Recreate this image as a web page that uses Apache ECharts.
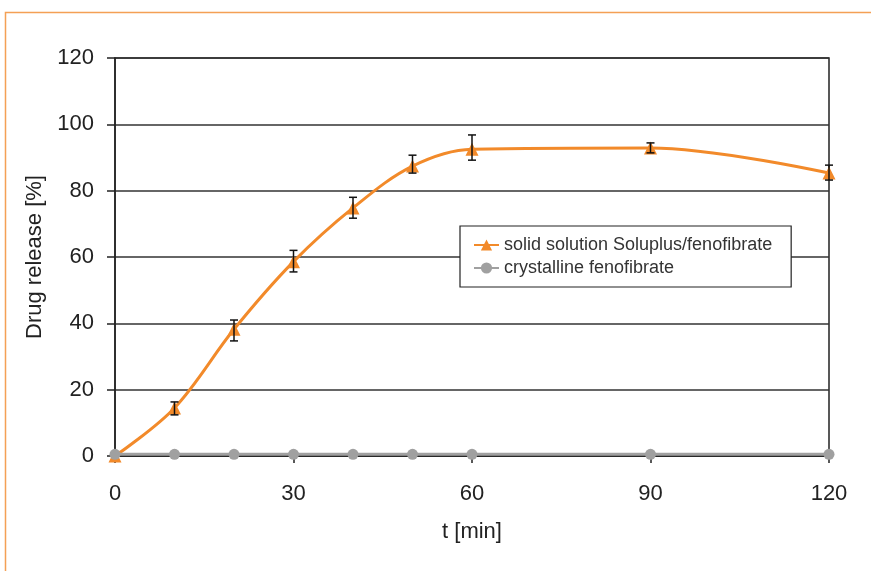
<!DOCTYPE html>
<html><head><meta charset="utf-8">
<script src="https://cdn.jsdelivr.net/npm/echarts@6/dist/echarts.min.js"></script>
<style>html,body{margin:0;padding:0;background:#fff}#c{width:871px;height:571px}</style>
</head><body><div id="c"></div>
<script>
const times = [0, 10, 20, 30, 40, 50, 60, 90, 120];
const solidSolution = [0, 14.5, 38.2, 58.6, 74.8, 87.4, 92.5, 92.9, 85.3];
const errLow = [0, 12.4, 34.7, 55.5, 71.7, 85.3, 89.2, 91.4, 83.2];
const errHigh = [0, 16.3, 41.0, 62.0, 78.0, 90.7, 96.8, 94.4, 87.7];
const crystalline = [0.5, 0.5, 0.5, 0.5, 0.5, 0.5, 0.5, 0.5, 0.5];
const xTicks = [0, 30, 60, 90, 120];
const yTicks = [0, 20, 40, 60, 80, 100, 120];

const font = 'Liberation Sans, Arial, Helvetica, sans-serif';
const orange = '#F28A2A';
const grey = '#A0A0A0';

const chart = echarts.init(document.getElementById('c'));
chart.setOption({
  animation: false,
  backgroundColor: '#fff',
  textStyle: { fontFamily: font },
  graphic: [{
    type: 'rect', left: 3, top: 10, silent: true, z: -10,
    shape: { width: 900, height: 600 },
    style: { fill: 'none', stroke: '#F4A055', lineWidth: 1.5 }
  }],
  grid: { left: 115, top: 58, right: 42, bottom: 115, show: true, borderColor: '#222', borderWidth: 1.5, backgroundColor: 'transparent' },
  legend: {
    orient: 'vertical', left: 460, top: 226,
    padding: [10, 19, 10, 13],
    itemWidth: 25, itemHeight: 14, itemGap: 5,
    backgroundColor: '#fff', borderColor: '#222', borderWidth: 1.2,
    textStyle: { fontFamily: font, fontSize: 18, color: '#333' },
    data: ['solid solution Soluplus/fenofibrate', 'crystalline fenofibrate']
  },
  xAxis: {
    type: 'value', min: 0, max: 120, interval: 30,
    name: 't [min]', nameLocation: 'middle', nameGap: 65,
    nameTextStyle: { fontFamily: font, fontSize: 22, color: '#222' },
    axisLine: { show: true, onZero: false, lineStyle: { color: '#222', width: 1.5 } },
    axisTick: { show: true, inside: false, length: 7, lineStyle: { color: '#222', width: 1.5 } },
    axisLabel: { fontFamily: font, fontSize: 22, color: '#222', margin: 27,
      formatter: v => xTicks.includes(v) ? String(v) : '' },
    splitLine: { show: false }
  },
  yAxis: {
    type: 'value', min: 0, max: 120, interval: 20,
    name: 'Drug release [%]', nameLocation: 'middle', nameGap: 66,
    nameTextStyle: { fontFamily: font, fontSize: 22, color: '#222' },
    axisLine: { show: true, lineStyle: { color: '#222', width: 1.5 } },
    axisTick: { show: true, inside: false, length: 8, lineStyle: { color: '#222', width: 1.5 } },
    axisLabel: { fontFamily: font, fontSize: 22, color: '#222', margin: 21,
      formatter: v => yTicks.includes(v) ? String(v) : '' },
    splitLine: { show: true, lineStyle: { color: '#333', width: 1.5 } }
  },
  series: [
    {
      name: 'crystalline fenofibrate', type: 'line',
      data: times.map((t, i) => [t, crystalline[i]]),
      symbol: 'circle', symbolSize: 11,
      lineStyle: { color: grey, width: 3 },
      itemStyle: { color: grey },
      z: 6
    },
    {
      name: 'solid solution Soluplus/fenofibrate', type: 'line',
      data: times.map((t, i) => [t, solidSolution[i]]),
      smooth: 0.35,
      symbol: 'triangle', symbolSize: 13,
      lineStyle: { color: orange, width: 3 },
      itemStyle: { color: orange },
      z: 4
    },
    {
      name: 'errors', type: 'custom',
      data: times.map((t, i) => [t, errLow[i], errHigh[i]]),
      encode: { x: 0, y: [1, 2] },
      z: 5,
      renderItem: function (params, api) {
        const x = api.value(0);
        const lo = api.coord([x, api.value(1)]);
        const hi = api.coord([x, api.value(2)]);
        if (Math.abs(hi[1] - lo[1]) < 1) return null;
        const w = 4;
        const st = { stroke: '#111', lineWidth: 1.5 };
        return {
          type: 'group',
          children: [
            { type: 'line', shape: { x1: lo[0], y1: lo[1], x2: hi[0], y2: hi[1] }, style: st },
            { type: 'line', shape: { x1: lo[0] - w, y1: lo[1], x2: lo[0] + w, y2: lo[1] }, style: st },
            { type: 'line', shape: { x1: hi[0] - w, y1: hi[1], x2: hi[0] + w, y2: hi[1] }, style: st }
          ]
        };
      }
    }
  ]
});
</script></body></html>
